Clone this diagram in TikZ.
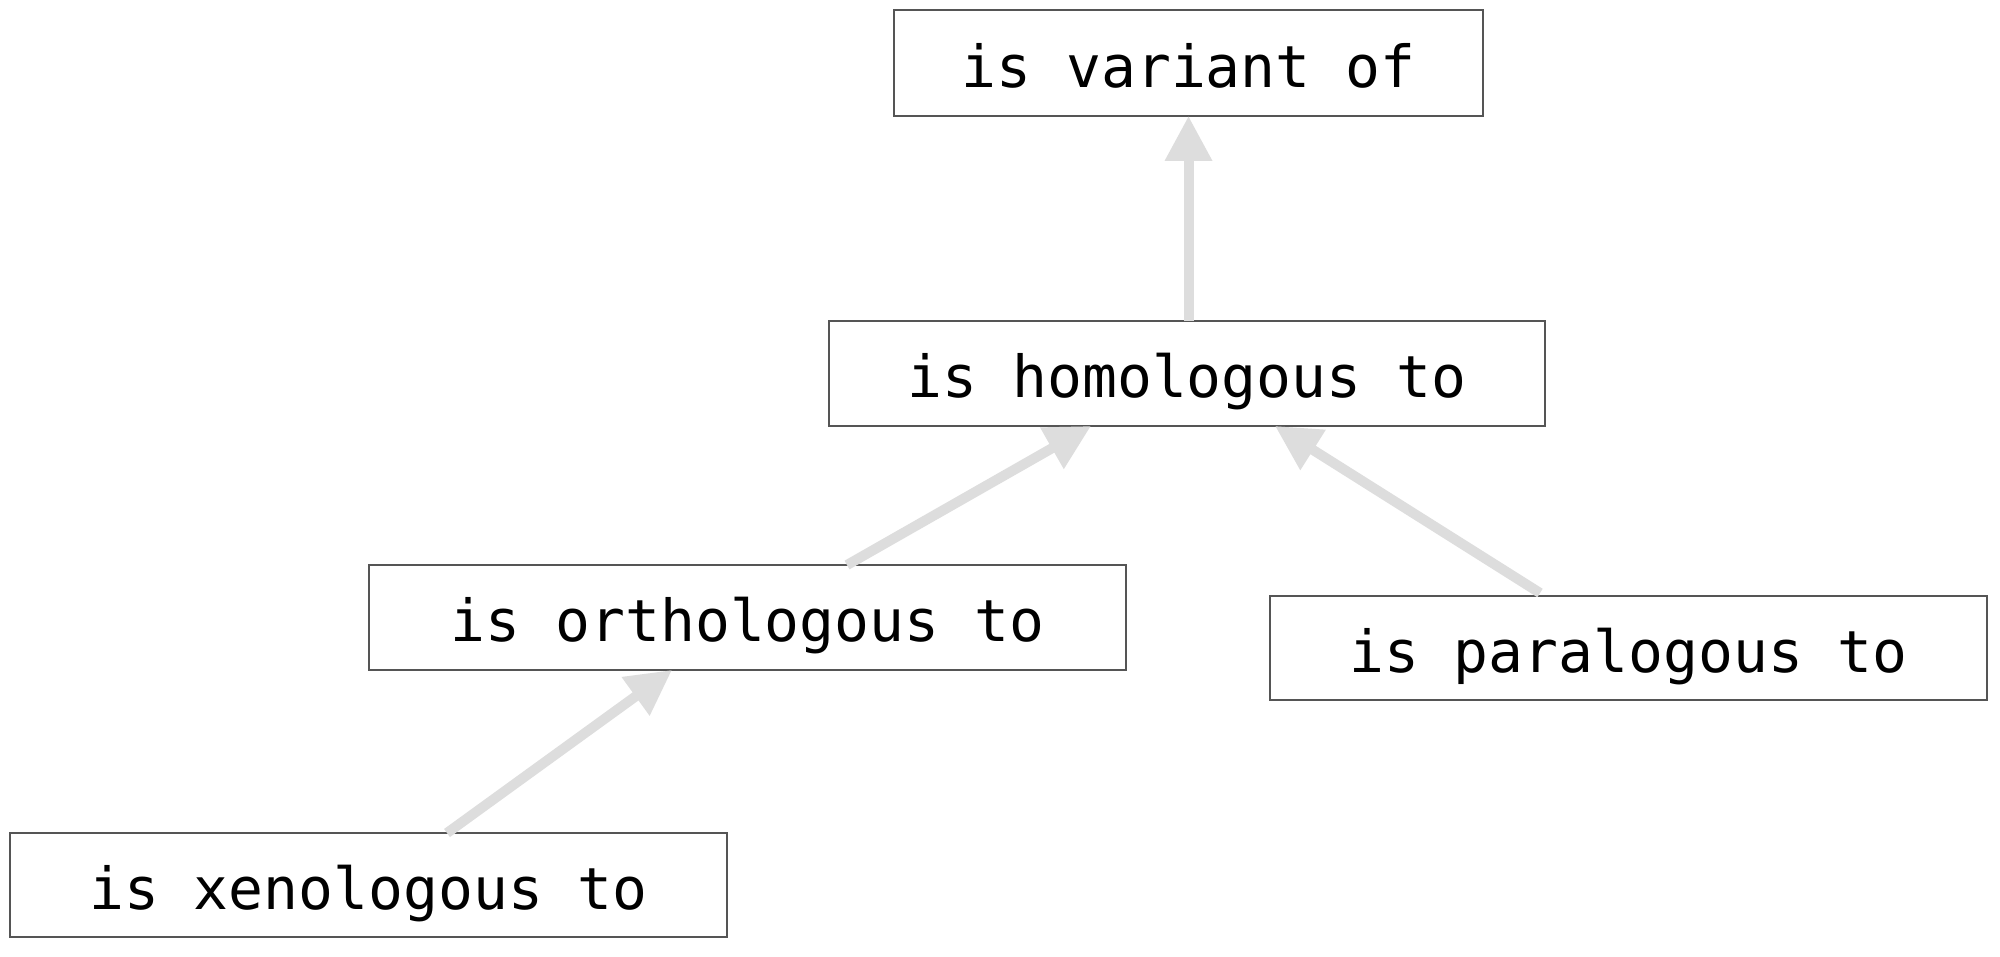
\documentclass[tikz,border=0pt]{standalone}
\usepackage{fontspec}
\setmonofont{DejaVu Sans Mono}
\usetikzlibrary{arrows.meta,calc}
\definecolor{arrowgray}{HTML}{DDDDDD}
\definecolor{boxline}{HTML}{555555}
\tikzset{
  relbox/.style={draw=boxline, line width=0.6pt, fill=white, inner sep=0pt, outer sep=0pt,
    text height=31pt, text depth=6.8pt,
    font=\ttfamily\fontsize{29pt}{35pt}\selectfont, text=black},
  isa/.style={draw=arrowgray, line width=5pt, -{Triangle[length=22.5pt,width=22.5pt]}}
}
\begin{document}
\begin{tikzpicture}[x=0.5pt,y=-0.5pt]
\useasboundingbox[fill=white] (0,0) rectangle (2000,957);
\node[relbox, minimum width=294.5pt, minimum height=53pt] (var) at (1188.5,63) {is variant of};
\node[relbox, minimum width=358pt, minimum height=52.5pt] (homol) at (1187,373.5) {is homologous to};
\node[relbox, minimum width=378.5pt, minimum height=52.5pt] (orth) at (747.5,617.5) {is orthologous to};
\node[relbox, minimum width=358.5pt, minimum height=52pt] (para) at (1628.5,648) {is paralogous to};
\node[relbox, minimum width=358.5pt, minimum height=52pt] (xeno) at (368.5,885) {is xenologous to};
\coordinate (s1) at (homol.north -| var.south);
\coordinate (s2) at ($(orth.north west)+(478,0)$);
\coordinate (t2) at ($(homol.south west)+(262,0)$);
\coordinate (s3) at ($(para.north west)+(270,-3)$);
\coordinate (t3) at ($(homol.south west)+(446,0)$);
\coordinate (s4) at ($(xeno.north west)+(437,0)$);
\coordinate (t4) at ($(orth.south west)+(303,0)$);
\draw[isa] (s1) -- (var.south);
\draw[isa] (s2) -- (t2);
\draw[isa] (s3) -- (t3);
\draw[isa] (s4) -- (t4);
\end{tikzpicture}
\end{document}
